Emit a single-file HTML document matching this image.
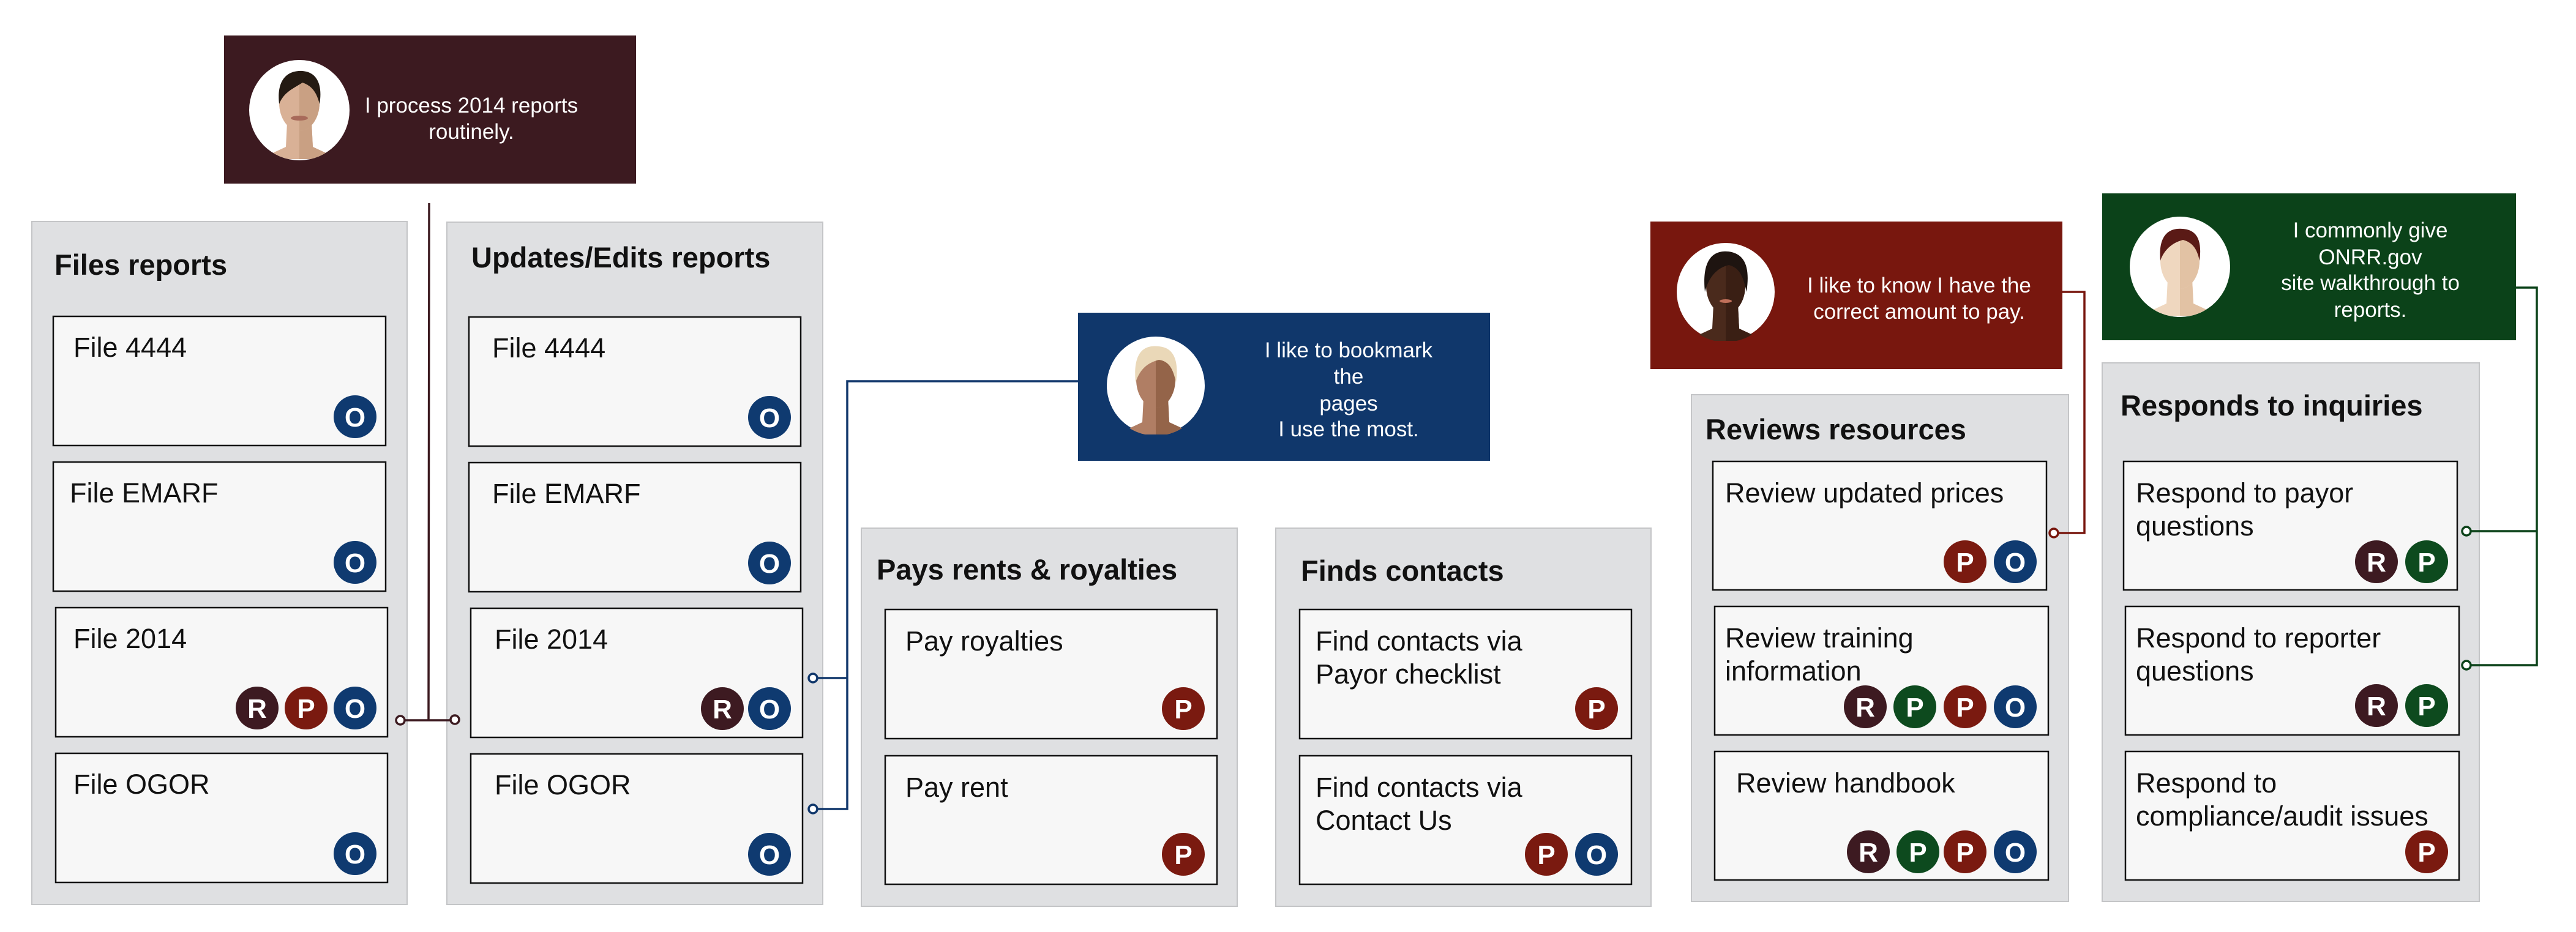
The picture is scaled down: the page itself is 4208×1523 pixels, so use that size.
<!DOCTYPE html>
<html><head><meta charset="utf-8"><style>
html,body{margin:0;padding:0;background:#fff;}
svg{display:block;}
text{font-family:"Liberation Sans",Arial,sans-serif;}
.col{fill:#dfe0e2;stroke:#c4c5c7;stroke-width:2;}
.card{fill:#f7f7f7;stroke:#111;stroke-width:2.5;}
.ct{font-size:45px;fill:#111;}
.tt{font-size:47px;font-weight:bold;fill:#111;}
.pt{font-size:35px;fill:#fff;text-anchor:middle;}
.bl{font-size:44px;font-weight:bold;fill:#fff;text-anchor:middle;}
</style></head><body>
<svg width="4208" height="1523" viewBox="0 0 4208 1523" xmlns="http://www.w3.org/2000/svg">
<defs>
<clipPath id="cc"><circle r="82"/></clipPath>
</defs>

<rect x="366" y="58" width="673" height="242" fill="#3c1a20"/>
<rect x="1761" y="511" width="673" height="242" fill="#10376b"/>
<rect x="2696" y="362" width="673" height="241" fill="#78170e"/>
<rect x="3434" y="316" width="676" height="240" fill="#0b4219"/>

<g transform="translate(489,180)">
<circle r="82" fill="#fff"/>
<g clip-path="url(#cc)">
<path d="M-20,20 L20,20 L22,60 L65,80 L-65,80 L-22,60Z" fill="#d9b196"/>
<path d="M0,20 L20,20 L22,60 L65,80 L0,80Z" fill="#c9a083"/>
<ellipse cx="0" cy="-12" rx="33" ry="46" fill="#d9b196"/>
<path d="M0,-58 A33,46 0 0 1 0,34Z" fill="#c9a083"/>
<path d="M-33,-10 C-38,-55 -15,-65 5,-64 C30,-62 38,-40 33,-10 C28,-30 20,-40 5,-45 C-10,-35 -25,-30 -33,-10Z" fill="#241a12"/>
<ellipse cx="0" cy="13" rx="14" ry="4" fill="#a86a5a"/>
</g></g>
<g transform="translate(1888,630)">
<circle r="80" fill="#fff"/>
<g clip-path="url(#cc)">
<path d="M-20,20 L20,20 L22,60 L65,80 L-65,80 L-22,60Z" fill="#b07e64"/>
<path d="M0,20 L20,20 L22,60 L65,80 L0,80Z" fill="#946449"/>
<ellipse cx="0" cy="-10" rx="32" ry="46" fill="#b07e64"/>
<path d="M0,-56 A32,46 0 0 1 0,36Z" fill="#946449"/>
<path d="M-33,-5 C-38,-60 -15,-66 5,-64 C30,-62 38,-40 33,-5 C28,-30 20,-40 5,-42 C-10,-38 -25,-30 -33,-5Z" fill="#ead8b8"/>
</g></g>
<g transform="translate(2819,477)">
<circle r="80" fill="#fff"/>
<g clip-path="url(#cc)">
<path d="M-20,20 L20,20 L22,60 L65,80 L-65,80 L-22,60Z" fill="#4a2a1c"/>
<path d="M0,20 L20,20 L22,60 L65,80 L0,80Z" fill="#3a1f14"/>
<ellipse cx="0" cy="-10" rx="32" ry="46" fill="#4a2a1c"/>
<path d="M0,-56 A32,46 0 0 1 0,36Z" fill="#3a1f14"/>
<path d="M-34,0 C-40,-60 -15,-68 5,-66 C32,-62 40,-40 34,0 C28,-30 20,-40 5,-44 C-10,-40 -26,-30 -34,0Z" fill="#1e1410"/>
<ellipse cx="0" cy="15" rx="10" ry="3" fill="#c0705a"/>
</g></g>
<g transform="translate(3561,436)">
<circle r="82" fill="#fff"/>
<g clip-path="url(#cc)">
<path d="M-20,20 L20,20 L22,60 L65,80 L-65,80 L-22,60Z" fill="#efd7bf"/>
<path d="M0,20 L20,20 L22,60 L65,80 L0,80Z" fill="#e2c2a4"/>
<ellipse cx="0" cy="-10" rx="32" ry="46" fill="#efd7bf"/>
<path d="M0,-56 A32,46 0 0 1 0,36Z" fill="#e2c2a4"/>
<path d="M-32,-10 C-36,-55 -15,-64 5,-62 C30,-60 36,-40 32,-10 C28,-30 20,-40 5,-44 C-10,-40 -25,-30 -32,-10Z" fill="#5a1a16"/>
</g></g>

<text class="pt" x="770" y="184">I process 2014 reports</text>
<text class="pt" x="770" y="227">routinely.</text>
<text class="pt" x="2203" y="584">I like to bookmark</text>
<text class="pt" x="2203" y="627">the</text>
<text class="pt" x="2203" y="671">pages</text>
<text class="pt" x="2203" y="713">I use the most.</text>
<text class="pt" x="3135" y="478">I like to know I have the</text>
<text class="pt" x="3135" y="521">correct amount to pay.</text>
<text class="pt" x="3872" y="388">I commonly give</text>
<text class="pt" x="3872" y="432">ONRR.gov</text>
<text class="pt" x="3872" y="474">site walkthrough to</text>
<text class="pt" x="3872" y="518">reports.</text>

<rect class="col" x="52" y="362" width="613" height="1116"/>
<rect class="col" x="730" y="363" width="614" height="1115"/>
<rect class="col" x="1407" y="863" width="614" height="618"/>
<rect class="col" x="2084" y="863" width="613" height="618"/>
<rect class="col" x="2763" y="645" width="616" height="828"/>
<rect class="col" x="3434" y="593" width="616" height="880"/>

<text class="tt" x="89" y="449">Files reports</text>
<text class="tt" x="770" y="437">Updates/Edits reports</text>
<text class="tt" x="1432" y="947">Pays rents &amp; royalties</text>
<text class="tt" x="2125" y="949">Finds contacts</text>
<text class="tt" x="2786" y="718">Reviews resources</text>
<text class="tt" x="3464" y="679">Responds to inquiries</text>

<rect class="card" x="87" y="517" width="543" height="211"/>
<rect class="card" x="87" y="755" width="543" height="211"/>
<rect class="card" x="91" y="993" width="542" height="211"/>
<rect class="card" x="91" y="1231" width="542" height="211"/>
<text class="ct" x="120" y="583">File 4444</text>
<text class="ct" x="114" y="821">File EMARF</text>
<text class="ct" x="120" y="1059">File 2014</text>
<text class="ct" x="120" y="1297">File OGOR</text>
<rect class="card" x="766" y="518" width="542" height="211"/>
<rect class="card" x="766" y="756" width="542" height="211"/>
<rect class="card" x="769" y="994" width="542" height="211"/>
<rect class="card" x="769" y="1232" width="542" height="211"/>
<text class="ct" x="804" y="584">File 4444</text>
<text class="ct" x="804" y="822">File EMARF</text>
<text class="ct" x="808" y="1060">File 2014</text>
<text class="ct" x="808" y="1298">File OGOR</text>
<rect class="card" x="1446" y="996" width="542" height="211"/>
<rect class="card" x="1446" y="1235" width="542" height="210"/>
<text class="ct" x="1479" y="1063">Pay royalties</text>
<text class="ct" x="1479" y="1302">Pay rent</text>
<rect class="card" x="2123" y="996" width="542" height="211"/>
<rect class="card" x="2123" y="1235" width="542" height="210"/>
<text class="ct" x="2149" y="1063">Find contacts via</text>
<text class="ct" x="2149" y="1117">Payor checklist</text>
<text class="ct" x="2149" y="1302">Find contacts via</text>
<text class="ct" x="2149" y="1356">Contact Us</text>
<rect class="card" x="2798" y="754" width="545" height="210"/>
<rect class="card" x="2801" y="991" width="545" height="210"/>
<rect class="card" x="2801" y="1228" width="545" height="210"/>
<text class="ct" x="2818" y="821">Review updated prices</text>
<text class="ct" x="2818" y="1058">Review training</text>
<text class="ct" x="2818" y="1112">information</text>
<text class="ct" x="2836" y="1295">Review handbook</text>
<rect class="card" x="3469" y="754" width="545" height="210"/>
<rect class="card" x="3472" y="991" width="545" height="210"/>
<rect class="card" x="3472" y="1228" width="545" height="210"/>
<text class="ct" x="3489" y="821">Respond to payor</text>
<text class="ct" x="3489" y="875">questions</text>
<text class="ct" x="3489" y="1058">Respond to reporter</text>
<text class="ct" x="3489" y="1112">questions</text>
<text class="ct" x="3489" y="1295">Respond to</text>
<text class="ct" x="3489" y="1349">compliance/audit issues</text>

<g class="bl">
<g fill="#0f3a70"><circle cx="580" cy="681" r="35"/><circle cx="580" cy="919" r="35"/><circle cx="580" cy="1157" r="35"/><circle cx="580" cy="1395" r="35"/>
<circle cx="1257" cy="682" r="35"/><circle cx="1257" cy="920" r="35"/><circle cx="1257" cy="1158" r="35"/><circle cx="1257" cy="1396" r="35"/>
<circle cx="2608" cy="1396" r="35"/><circle cx="3292" cy="918" r="35"/><circle cx="3292" cy="1155" r="35"/><circle cx="3292" cy="1392" r="35"/></g>
<g fill="#7a1a10"><circle cx="500" cy="1157" r="35"/><circle cx="1933" cy="1158" r="35"/><circle cx="1933" cy="1396" r="35"/>
<circle cx="2608" cy="1158" r="35"/><circle cx="2526" cy="1396" r="35"/><circle cx="3210" cy="918" r="35"/><circle cx="3210" cy="1155" r="35"/><circle cx="3210" cy="1392" r="35"/><circle cx="3964" cy="1392" r="35"/></g>
<g fill="#3d1a21"><circle cx="420" cy="1157" r="35"/><circle cx="1180" cy="1158" r="35"/><circle cx="3047" cy="1155" r="35"/><circle cx="3052" cy="1392" r="35"/><circle cx="3882" cy="918" r="35"/><circle cx="3882" cy="1153" r="35"/></g>
<g fill="#0d4a1e"><circle cx="3128" cy="1155" r="35"/><circle cx="3133" cy="1392" r="35"/><circle cx="3964" cy="918" r="35"/><circle cx="3964" cy="1153" r="35"/></g>
</g>
<g class="bl">
<text x="580" y="697">O</text><text x="580" y="935">O</text><text x="580" y="1173">O</text><text x="580" y="1411">O</text>
<text x="1257" y="698">O</text><text x="1257" y="936">O</text><text x="1257" y="1174">O</text><text x="1257" y="1412">O</text>
<text x="2608" y="1412">O</text><text x="3292" y="934">O</text><text x="3292" y="1171">O</text><text x="3292" y="1408">O</text>
<text x="500" y="1173">P</text><text x="1933" y="1174">P</text><text x="1933" y="1412">P</text>
<text x="2608" y="1174">P</text><text x="2526" y="1412">P</text><text x="3210" y="934">P</text><text x="3210" y="1171">P</text><text x="3210" y="1408">P</text><text x="3964" y="1408">P</text>
<text x="420" y="1173">R</text><text x="1180" y="1174">R</text><text x="3047" y="1171">R</text><text x="3052" y="1408">R</text><text x="3882" y="934">R</text><text x="3882" y="1169">R</text>
<text x="3128" y="1171">P</text><text x="3133" y="1408">P</text><text x="3964" y="934">P</text><text x="3964" y="1169">P</text>
</g>

<g fill="none" stroke-width="3.5">
<path d="M701,332 L700,1177 M661,1177 L736,1177" stroke="#3c1a20"/>
<circle cx="654" cy="1177" r="7" stroke="#3c1a20" fill="#fff"/>
<circle cx="743" cy="1176" r="7" stroke="#3c1a20" fill="#fff"/>
<path d="M1761,623 L1384,623 L1384,1322 L1335,1322 M1384,1108 L1335,1108" stroke="#10376b"/>
<circle cx="1328" cy="1108" r="7" stroke="#10376b" fill="#fff"/>
<circle cx="1328" cy="1322" r="7" stroke="#10376b" fill="#fff"/>
<path d="M3369,477 L3405,477 L3405,871 L3362,871" stroke="#78170e"/>
<circle cx="3355" cy="871" r="7" stroke="#78170e" fill="#fff"/>
<path d="M4110,470 L4144,470 L4144,1087 L4036,1087 M4144,868 L4036,868" stroke="#0b4219"/>
<circle cx="4029" cy="868" r="7" stroke="#0b4219" fill="#fff"/>
<circle cx="4029" cy="1087" r="7" stroke="#0b4219" fill="#fff"/>
</g>
</svg>
</body></html>
